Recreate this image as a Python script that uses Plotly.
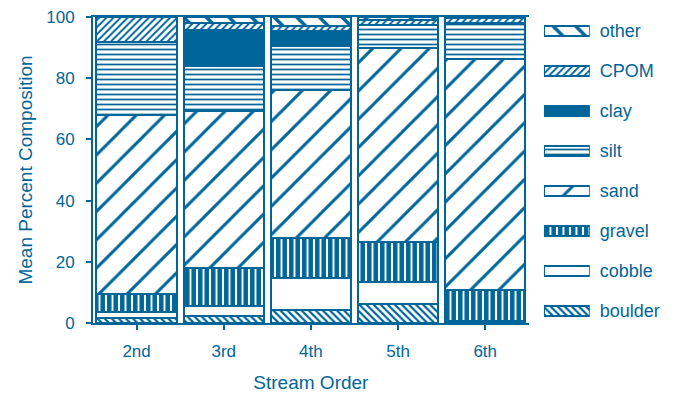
import plotly.graph_objects as go

# ---- data ----
orders = ["2nd", "3rd", "4th", "5th", "6th"]
components = ["boulder", "cobble", "gravel", "sand", "silt", "clay", "CPOM", "other"]
boulder = [1.6, 2.4, 4.3, 6.3, 0.3]
cobble = [2.0, 3.0, 10.4, 7.0, 0.3]
gravel = [5.9, 12.6, 13.1, 13.2, 10.3]
sand = [58.6, 51.4, 48.4, 63.4, 75.5]
silt = [23.7, 14.5, 14.4, 7.4, 11.6]
clay = [0.0, 11.9, 4.7, 0.0, 0.0]
cpom = [8.2, 2.4, 1.6, 1.7, 1.7]
other = [0.0, 1.8, 3.1, 1.0, 0.3]
y_ticks = [0, 20, 40, 60, 80, 100]

series = [boulder, cobble, gravel, sand, silt, clay, cpom, other]

BLUE = "#006699"
FONT = "Liberation Sans, Arial, sans-serif"

# pattern styles per component
styles = {
    "boulder": dict(shape="\\", size=5, solidity=0.45),
    "cobble": dict(shape="", size=8, solidity=0.0),
    "gravel": dict(shape="|", size=6.5, solidity=0.7),
    "sand": dict(shape="/", size=20, solidity=0.15),
    "silt": dict(shape="-", size=5, solidity=0.35),
    "clay": None,
    "CPOM": dict(shape="/", size=5, solidity=0.4),
    "other": dict(shape="\\", size=16, solidity=0.22),
}


def marker_for(name):
    st = styles[name]
    if st is None:
        return dict(color=BLUE, line=dict(color=BLUE, width=2))
    if st["shape"] == "":
        return dict(color="white", line=dict(color=BLUE, width=2))
    return dict(
        color="white",
        line=dict(color=BLUE, width=2),
        pattern=dict(shape=st["shape"], size=st["size"], solidity=st["solidity"],
                     fgcolor=BLUE, bgcolor="white", fillmode="replace"),
    )


fig = go.Figure()
for name, vals in zip(components, series):
    fig.add_trace(go.Bar(x=orders, y=vals, name=name, marker=marker_for(name),
                         showlegend=False, xaxis="x", yaxis="y"))

# custom legend swatches on a separate small axis
for i, name in enumerate(components):
    fig.add_trace(go.Bar(y=[i], x=[1], orientation="h", width=0.25, marker=marker_for(name),
                         showlegend=False, xaxis="x2", yaxis="y2", hoverinfo="skip"))

fig.update_layout(
    width=676, height=393,
    margin=dict(l=93, r=10, t=17, b=70, autoexpand=False),
    paper_bgcolor="white", plot_bgcolor="white",
    barmode="stack", bargap=0.08,
    font=dict(family=FONT, color=BLUE, size=17),
    xaxis=dict(domain=[0, 0.7605], showline=True, linecolor=BLUE, linewidth=2, mirror=True,
               ticks="outside", ticklen=5, tickwidth=2, tickcolor=BLUE,
               tickfont=dict(size=17), ticklabelstandoff=7, automargin=False,
               title=dict(text="Stream Order", font=dict(size=19), standoff=23),
               showgrid=False, zeroline=False),
    yaxis=dict(range=[0, 100], tickvals=y_ticks, showline=True, linecolor=BLUE, linewidth=2,
               ticks="outside", ticklen=5, tickwidth=2, tickcolor=BLUE,
               tickfont=dict(size=17), ticklabelstandoff=8, automargin=False,
               title=dict(text="Mean Percent Composition", font=dict(size=19), standoff=9),
               showgrid=False, zeroline=False),
    xaxis2=dict(domain=[0.787, 0.867], range=[0, 1], anchor="y2", visible=False),
    yaxis2=dict(domain=[0, 1], range=[-0.3, 7.35], anchor="x2", side="right",
                tickvals=list(range(len(components))), ticktext=components,
                ticks="", showline=False, showgrid=False, zeroline=False, automargin=False,
                tickfont=dict(size=18), ticklabelstandoff=9),
)

fig.write_html("out.html")
